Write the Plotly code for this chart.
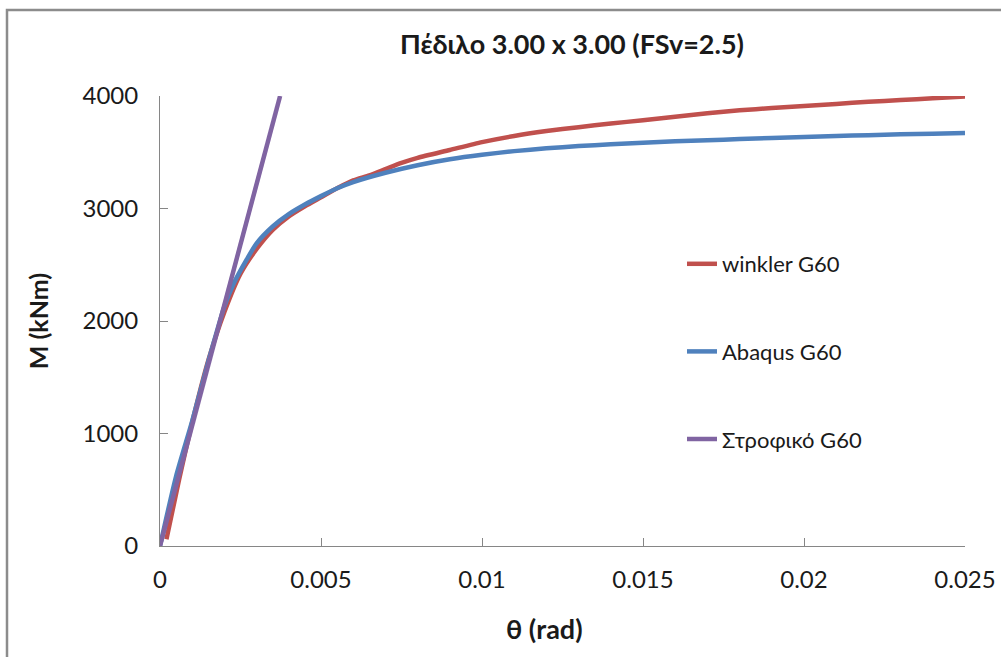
import plotly.graph_objects as go

# Moment-rotation curves for the 3.00 x 3.00 footing (FSv = 2.5)
theta_winkler = [0.0002, 0.0006, 0.001, 0.0015, 0.002, 0.0025, 0.003, 0.0035, 0.004,
                 0.0045, 0.005, 0.0055, 0.006, 0.0065, 0.007, 0.0075, 0.008, 0.009,
                 0.010, 0.011, 0.012, 0.013, 0.014, 0.015, 0.016, 0.017, 0.018,
                 0.019, 0.020, 0.021, 0.022, 0.023, 0.024, 0.025]
m_winkler = [60, 600, 1100, 1650, 2080, 2420, 2640, 2810, 2930,
             3020, 3100, 3180, 3250, 3295, 3350, 3405, 3450, 3520,
             3590, 3645, 3688, 3723, 3755, 3785, 3815, 3847, 3873,
             3893, 3912, 3930, 3948, 3964, 3980, 3995]

theta_abaqus = [0.0, 0.0005, 0.001, 0.0015, 0.002, 0.0023, 0.0027,
                0.003, 0.0035, 0.004, 0.0045, 0.005, 0.0055, 0.006, 0.007, 0.008,
                0.009, 0.010, 0.011, 0.012, 0.013, 0.014, 0.015, 0.016, 0.017,
                0.018, 0.019, 0.020, 0.021, 0.022, 0.023, 0.024, 0.025]
m_abaqus = [0, 620, 1110, 1640, 2130, 2340, 2550,
            2690, 2840, 2950, 3035, 3110, 3180, 3235, 3318, 3385,
            3438, 3478, 3510, 3535, 3555, 3571, 3585, 3597, 3607,
            3617, 3627, 3636, 3644, 3652, 3659, 3665, 3671]

theta_rot = [0.0, 0.00373]
m_rot = [0, 4000]

x_ticks = [0, 0.005, 0.01, 0.015, 0.02, 0.025]
x_tick_text = ["0", "0.005", "0.01", "0.015", "0.02", "0.025"]
y_ticks = [0, 1000, 2000, 3000, 4000]

FONT = "Lato, 'Noto Sans', 'Open Sans', sans-serif"
AXIS_GRAY = "#868686"
TEXT = "#1a1a1a"

W, H = 1001, 657
ML, MR, MT, MB = 160, 36, 96, 111

fig = go.Figure()
fig.add_trace(go.Scatter(x=theta_winkler, y=m_winkler, mode="lines", name="winkler G60",
                         legendgroup="a",
                         line=dict(color="#C0504D", width=4.5, shape="spline", smoothing=0.6)))
fig.add_trace(go.Scatter(x=theta_abaqus, y=m_abaqus, mode="lines", name="Abaqus G60",
                         legendgroup="b",
                         line=dict(color="#4F81BD", width=4.5, shape="spline", smoothing=0.6)))
fig.add_trace(go.Scatter(x=theta_rot, y=m_rot, mode="lines", name="Στροφικό G60",
                         legendgroup="c", line=dict(color="#8064A2", width=4.5)))

pw = W - ML - MR
ph = H - MT - MB

fig.update_layout(
    width=W, height=H,
    margin=dict(l=ML, r=MR, t=MT, b=MB, autoexpand=False),
    paper_bgcolor="white", plot_bgcolor="white",
    font=dict(family=FONT, color=TEXT),
    title=dict(text="<b>Πέδιλο 3.00 x 3.00 (FSv=2.5)</b>", x=572 / W, xanchor="center",
               y=1 - 45 / H, yanchor="middle", font=dict(size=27, color=TEXT)),
    xaxis=dict(range=[0, 0.025], tickvals=x_ticks, ticktext=x_tick_text, automargin=False,
               showgrid=False, zeroline=False, showline=True, linecolor=AXIS_GRAY, linewidth=1,
               ticks="inside", ticklen=8, tickcolor=AXIS_GRAY, ticklabelstandoff=12,
               tickfont=dict(size=24, color=TEXT)),
    yaxis=dict(range=[0, 4000], tickvals=y_ticks, automargin=False,
               showgrid=False, zeroline=False, showline=True, linecolor=AXIS_GRAY, linewidth=1,
               ticks="inside", ticklen=8, tickcolor=AXIS_GRAY, ticklabelstandoff=16,
               tickfont=dict(size=24, color=TEXT),
               title=dict(text="<b>M (kNm)</b>", font=dict(size=25, color=TEXT), standoff=26)),
    legend=dict(x=(682 - ML) / pw, y=1 - (243 - MT) / ph, xanchor="left", yanchor="top",
                bgcolor="rgba(0,0,0,0)", tracegroupgap=56,
                font=dict(size=22, color=TEXT)),
    annotations=[dict(text="<b>θ (rad)</b>", xref="paper", yref="paper",
                      x=(544 - ML) / pw, y=-(628 - MT - ph) / ph,
                      xanchor="center", yanchor="middle", showarrow=False,
                      font=dict(size=27, color=TEXT))],
    shapes=[dict(type="rect", xref="paper", yref="paper",
                 x0=(7 - ML) / pw, x1=(W + 20 - ML) / pw,
                 y0=-(MB + 20) / ph, y1=1 + (MT - 10) / ph,
                 line=dict(color="#8c8c8c", width=2.5), layer="below")],
)

fig.write_html("out.html")
